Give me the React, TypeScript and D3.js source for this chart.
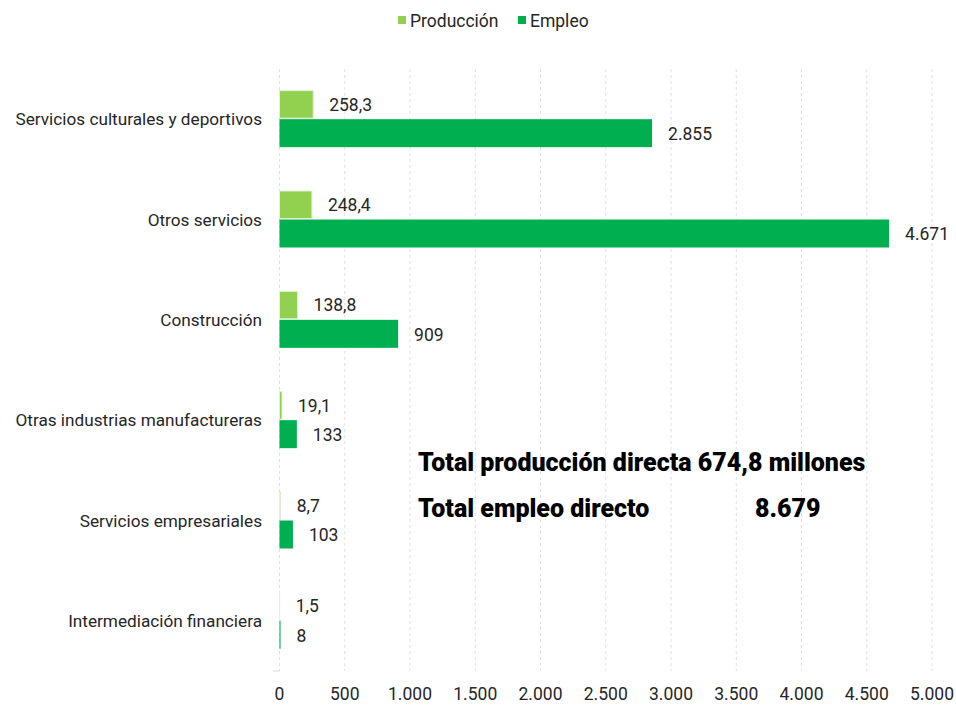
import React from "react";
import * as d3 from "d3";

const categories = [
  "Servicios culturales y deportivos",
  "Otros servicios",
  "Construcción",
  "Otras industrias manufactureras",
  "Servicios empresariales",
  "Intermediación financiera",
];
const produccion = [258.3, 248.4, 138.8, 19.1, 8.7, 1.5];
const empleo = [2855, 4671, 909, 133, 103, 8];
const xTicks = [0, 500, 1000, 1500, 2000, 2500, 3000, 3500, 4000, 4500, 5000];
const seriesNames = ["Producción", "Empleo"];
const colors = ["#92D050", "#00B050"];

const FONT = "'Liberation Sans Narrow', 'Roboto', sans-serif";

const fmtNum = (v: number) => {
  const s = d3.format(",")(v);
  return s.replace(/,/g, ".");
};
const fmtDec = (v: number) => (Number.isInteger(v) ? String(v) : v.toFixed(1).replace(".", ","));

export default function App() {
  const W = 956, H = 706;
  const left = 279.5, right = 932, top = 69, bottom = 671;
  const x = d3.scaleLinear().domain([0, 5000]).range([left, right]);
  const y = d3.scaleBand().domain(categories).range([top, bottom]);
  const barH = 27.5;

  return (
    <svg width={W} height={H} style={{ position: "absolute", left: 0, top: 0, background: "#fff" }} fontFamily={FONT}>
      {/* gridlines */}
      {xTicks.map((t) => (
        <line key={t} x1={x(t)} x2={x(t)} y1={top} y2={bottom} stroke="#e0e0e0" strokeDasharray="3,3" strokeWidth={1} />
      ))}
      <line x1={273} x2={left} y1={bottom} y2={bottom} stroke="#d9d9d9" />
      {/* tick labels */}
      {xTicks.map((t) => (
        <text key={"t" + t} x={x(t)} y={700} textAnchor="middle" fontSize={17.5} fill="#262626">
          {fmtNum(t)}
        </text>
      ))}
      {/* categories */}
      {categories.map((c, i) => {
        const cy = (y(c) as number) + y.bandwidth() / 2;
        const p = produccion[i];
        const e = empleo[i];
        return (
          <g key={c}>
            <text x={262} y={cy} dy="0.35em" textAnchor="end" fontSize={17.2} fill="#262626">{c}</text>
            <rect x={x(0)} y={cy - barH - 1} width={Math.max(0, x(p) - x(0))} height={barH} fill={colors[0]} stroke="#e2f0d9" strokeWidth={1} />
            <rect x={x(0)} y={cy} width={Math.max(0, x(e) - x(0))} height={barH + 0.5} fill={colors[1]} />
            <text x={x(p) + 16} y={cy - barH / 2 - 1} dy="0.35em" fontSize={17.5} fill="#262626">{fmtDec(p)}</text>
            <text x={x(e) + 16} y={cy + barH / 2 + 1} dy="0.35em" fontSize={17.5} fill="#262626">{fmtNum(e)}</text>
          </g>
        );
      })}
      {/* legend */}
      {seriesNames.map((s, i) => {
        const lx = [398, 518][i];
        return (
          <g key={s}>
            <rect x={lx} y={16} width={8} height={8} fill={colors[i]} />
            <text x={lx + 12} y={22} dy="0.3em" fontSize={17.5} fill="#262626">{s}</text>
          </g>
        );
      })}
      {/* totals */}
      <text x={418} y={462} dy="0.35em" fontSize={25} fontWeight={900} fill="#000">Total producción directa 674,8 millones</text>
      <text x={418} y={508} dy="0.35em" fontSize={25} fontWeight={900} fill="#000">Total empleo directo</text>
      <text x={755} y={508} dy="0.35em" fontSize={25} fontWeight={900} fill="#000">8.679</text>
    </svg>
  );
}
